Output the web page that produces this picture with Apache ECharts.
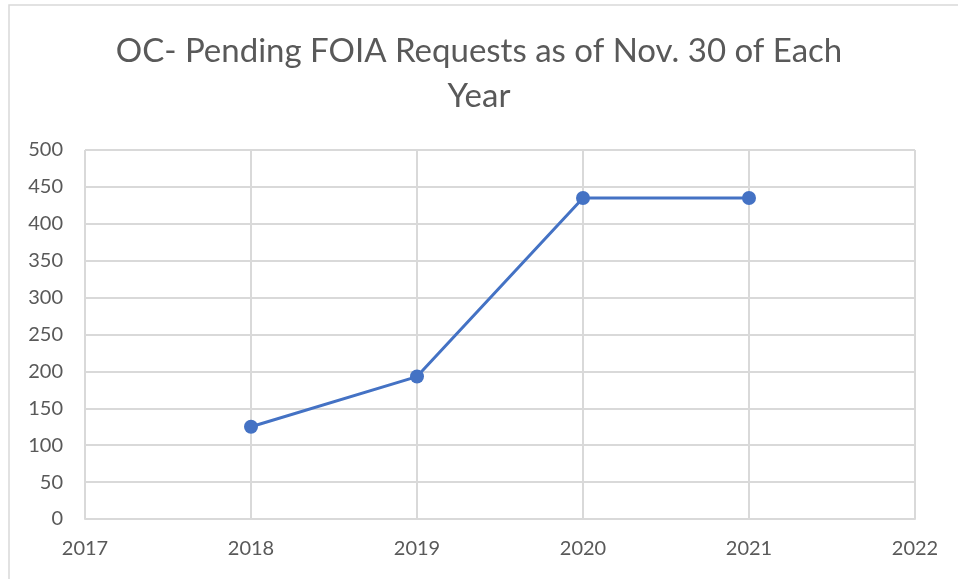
<!DOCTYPE html>
<html>
<head>
<meta charset="utf-8">
<script src="https://cdn.jsdelivr.net/npm/echarts@6/dist/echarts.min.js"></script>
<style>
  html, body { margin: 0; padding: 0; background: #fff; }
  #chart { width: 958px; height: 579px; }
</style>
</head>
<body>
<div id="chart"></div>
<script>
const years = [2018, 2019, 2020, 2021];
const pending = [125, 193, 435, 435];

const chart = echarts.init(document.getElementById("chart"));
const textColor = "#595959";
const font = "Lato, 'Open Sans', sans-serif";

const option = {
  backgroundColor: "#fff",
  animation: false,
  graphic: [
    {
      type: "rect",
      shape: { x: 9, y: 5, width: 960, height: 620 },
      style: { fill: "none", stroke: "#d9d9d9", lineWidth: 1.5 },
    },
  ],
  title: {
    text: "OC- Pending FOIA Requests as of Nov. 30 of Each\nYear",
    left: "center",
    top: 24,
    textStyle: {
      color: textColor,
      fontSize: 33,
      fontWeight: "normal",
      fontFamily: font,
      lineHeight: 45,
    },
  },
  grid: { left: 85, right: 43, top: 150, bottom: 60 },
  xAxis: {
    type: "value",
    min: 2017,
    max: 2022,
    interval: 1,
    axisLine: { show: true, lineStyle: { color: "#d9d9d9", width: 2 } },
    axisTick: { show: false },
    splitLine: { show: true, lineStyle: { color: "#d9d9d9", width: 2 } },
    axisLabel: {
      color: textColor,
      fontSize: 20,
      fontFamily: font,
      margin: 20,
      formatter: (v) => String(v),
    },
  },
  yAxis: {
    type: "value",
    min: 0,
    max: 500,
    interval: 50,
    axisLine: { show: false },
    axisTick: { show: false },
    splitLine: { show: true, lineStyle: { color: "#d9d9d9", width: 2 } },
    axisLabel: {
      color: textColor,
      fontSize: 20,
      fontFamily: font,
      margin: 22,
    },
  },
  series: [
    {
      type: "line",
      data: years.map((y, i) => [y, pending[i]]),
      symbol: "circle",
      symbolSize: 14,
      lineStyle: { color: "#4472C4", width: 3 },
      itemStyle: { color: "#4472C4" },
    },
  ],
};

chart.setOption(option);
</script>
</body>
</html>
